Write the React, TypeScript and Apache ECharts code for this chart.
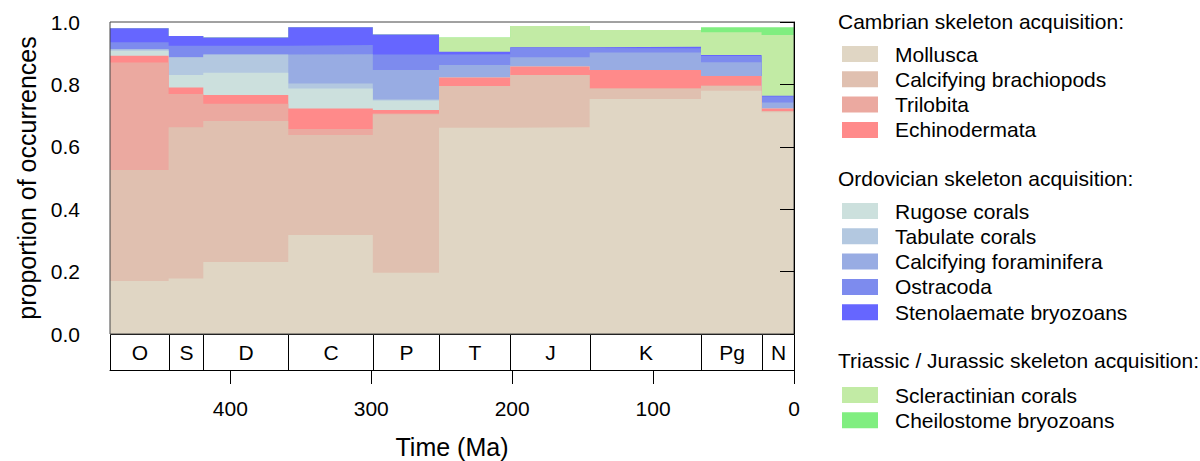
import React, { useEffect, useRef } from "react";
import * as echarts from "echarts";

// Geological periods (Ma)
const periodLabels = ["O", "S", "D", "C", "P", "T", "J", "K", "Pg", "N"];
const periodStarts = [485.4, 443.8, 419.2, 358.9, 298.9, 251.9, 201.4, 145.0, 66.0, 23.03];
const periodEnds = [443.8, 419.2, 358.9, 298.9, 251.9, 201.4, 145.0, 66.0, 23.03, 0];

// Proportion of occurrences per period (O, S, D, C, P, T, J, K, Pg, N)
const mollusca = [0.170, 0.178, 0.231, 0.317, 0.196, 0.661, 0.663, 0.753, 0.780, 0.711];
const brachiopods = [0.356, 0.485, 0.452, 0.321, 0.508, 0.134, 0.167, 0.034, 0.016, 0.004];
const trilobita = [0.344, 0.106, 0.055, 0.019, 0.003, 0, 0, 0, 0, 0];
const echinodermata = [0.022, 0.021, 0.028, 0.066, 0.011, 0.027, 0.027, 0.059, 0.031, 0.008];
const rugose = [0.016, 0.040, 0.071, 0.064, 0.030, 0, 0, 0, 0, 0];
const tabulate = [0.005, 0.057, 0.059, 0.016, 0.004, 0, 0, 0, 0, 0];
const foraminifera = [0, 0, 0, 0.094, 0.094, 0.040, 0.030, 0.056, 0.044, 0.019];
const ostracoda = [0.022, 0.037, 0.028, 0.029, 0.050, 0.035, 0.030, 0.014, 0.020, 0.019];
const stenolaemate = [0.045, 0.031, 0.026, 0.057, 0.064, 0.008, 0.002, 0.005, 0.003, 0.003];
const scleractinian = [0, 0, 0, 0, 0, 0.045, 0.068, 0.053, 0.073, 0.194];
const cheilostome = [0, 0, 0, 0, 0, 0, 0, 0, 0.016, 0.025];

const xTickValues = [0, 100, 200, 300, 400];

const groupCambrian = ["Mollusca", "Calcifying brachiopods", "Trilobita", "Echinodermata"];
const groupOrdovician = ["Rugose corals", "Tabulate corals", "Calcifying foraminifera", "Ostracoda", "Stenolaemate bryozoans"];
const groupTriJur = ["Scleractinian corals", "Cheilostome bryozoans"];

const taxa: [string, number[], string][] = [
  ["Mollusca", mollusca, "#E0D6C4"],
  ["Calcifying brachiopods", brachiopods, "#E0C0B0"],
  ["Trilobita", trilobita, "#EBA9A0"],
  ["Echinodermata", echinodermata, "#FF8A8A"],
  ["Rugose corals", rugose, "#CCE0DD"],
  ["Tabulate corals", tabulate, "#B3C8E0"],
  ["Calcifying foraminifera", foraminifera, "#98ACE3"],
  ["Ostracoda", ostracoda, "#7D8BEE"],
  ["Stenolaemate bryozoans", stenolaemate, "#6666FF"],
  ["Scleractinian corals", scleractinian, "#C2EBA5"],
  ["Cheilostome bryozoans", cheilostome, "#80EE80"],
];

const FONT = '"Liberation Sans", Arial, sans-serif';

export default function App() {
  const ref = useRef<HTMLDivElement>(null);

  useEffect(() => {
    if (!ref.current) return;
    const chart = echarts.init(ref.current, undefined, { renderer: "svg" });

    // cumulative (stacked) tops, computed from the per-taxon arrays
    const running = periodStarts.map(() => 0);
    const cumulative = taxa.map(([name, vals, color]) => {
      const tops = vals.map((v, i) => (running[i] = running[i] + v));
      return { name, color, tops };
    });

    // painter's order: highest cumulative drawn first, lower layers over it
    const areaSeries = cumulative.map(({ name, color, tops }, k) => ({
      name,
      type: "line",
      step: "end",
      xAxisIndex: 0,
      yAxisIndex: 0,
      symbol: "none",
      showSymbol: false,
      color,
      z: 2 + (taxa.length - k) * 0.01,
      zlevel: 0,
      lineStyle: { width: 0 },
      areaStyle: { color, opacity: 1, origin: "start" },
      silent: true,
      emphasis: { disabled: true },
      data: [
        ...periodStarts.map((s, i) => [s, tops[i]]),
        [periodEnds[periodEnds.length - 1], tops[tops.length - 1]],
      ],
    }));
    const orderedSeries = areaSeries.slice().reverse();

    const legendCommon = {
      orient: "vertical",
      icon: "rect",
      itemWidth: 36,
      itemHeight: 16,
      itemGap: 4.3,
      padding: 0,
      selectedMode: false,
      left: 842,
      textStyle: {
        fontSize: 21,
        lineHeight: 21,
        color: "#000",
        fontFamily: FONT,
        padding: [0, 0, 0, 12],
      },
    };

    const option: any = {
      animation: false,
      textStyle: { fontFamily: FONT },
      grid: [
        { left: 110, top: 22, width: 684, height: 312, show: true, borderColor: "#444", borderWidth: 1, backgroundColor: "transparent", z: 10 },
        { left: 110, top: 334, width: 684, height: 36 },
      ],
      xAxis: [
        { type: "value", gridIndex: 0, min: 0, max: 485.4, inverse: true, show: false },
        {
          type: "value",
          gridIndex: 1,
          min: 0,
          max: 485.4,
          inverse: true,
          interval: 100,
          position: "bottom",
          z: 10,
          axisLine: { show: true, lineStyle: { color: "#000", width: 1 } },
          axisTick: { show: true, length: 14, lineStyle: { color: "#000" }, customValues: xTickValues },
          axisLabel: { fontSize: 21, color: "#000", margin: 28, fontFamily: FONT, customValues: xTickValues },
          splitLine: { show: false },
          name: "Time (Ma)",
          nameLocation: "middle",
          nameGap: 64,
          nameTextStyle: { fontSize: 25, color: "#000", fontFamily: FONT },
        },
      ],
      yAxis: [
        {
          type: "value",
          gridIndex: 0,
          min: 0,
          max: 1,
          interval: 0.2,
          z: 10,
          axisLine: { show: true, lineStyle: { color: "#000", width: 1 } },
          axisTick: { show: true, length: 14, lineStyle: { color: "#000" } },
          axisLabel: { fontSize: 21, color: "#000", margin: 30, fontFamily: FONT, formatter: (v: number) => v.toFixed(1) },
          splitLine: { show: false },
          name: "proportion of occurrences",
          nameLocation: "middle",
          nameGap: 70,
          nameTextStyle: { fontSize: 25, color: "#000", fontFamily: FONT },
        },
        { type: "value", gridIndex: 1, min: 0, max: 1, show: false },
      ],
      legend: [
        { ...legendCommon, top: 43.5, data: groupCambrian },
        { ...legendCommon, top: 200.5, data: groupOrdovician },
        { ...legendCommon, top: 384.5, data: groupTriJur },
      ],
      graphic: [
        { type: "text", left: 838, top: 11, style: { text: "Cambrian skeleton acquisition:", fontSize: 21, fontFamily: FONT, fill: "#000" } },
        { type: "text", left: 838, top: 168, style: { text: "Ordovician skeleton acquisition:", fontSize: 21, fontFamily: FONT, fill: "#000" } },
        { type: "text", left: 838, top: 350, style: { text: "Triassic / Jurassic skeleton acquisition:", fontSize: 21, fontFamily: FONT, fill: "#000" } },
      ],
      series: [
        ...orderedSeries,
        {
          type: "custom",
          name: "periods",
          xAxisIndex: 1,
          yAxisIndex: 1,
          silent: true,
          z: 5,
          data: periodStarts.map((s, i) => [s, periodEnds[i], i]),
          renderItem: (params: any, api: any) => {
            const s = api.value(0);
            const e = api.value(1);
            const idx = api.value(2);
            const p0 = api.coord([s, 1]);
            const p1 = api.coord([e, 0]);
            const x0 = Math.round(p0[0]) + 0.5;
            const x1 = Math.round(p1[0]) + 0.5;
            const y0 = Math.round(p0[1]) + 0.5;
            const y1 = Math.round(p1[1]) + 0.5;
            return {
              type: "group",
              children: [
                {
                  type: "rect",
                  shape: { x: x0, y: y0, width: x1 - x0, height: y1 - y0 },
                  style: { fill: "#fff", stroke: "#000", lineWidth: 1 },
                },
                {
                  type: "text",
                  style: {
                    text: periodLabels[idx],
                    x: (x0 + x1) / 2,
                    y: (y0 + y1) / 2,
                    align: "center",
                    verticalAlign: "middle",
                    fontSize: 21,
                    fontFamily: FONT,
                    fill: "#000",
                  },
                },
              ],
            };
          },
        },
      ],
    };

    chart.setOption(option);
    return () => chart.dispose();
  }, []);

  return (
    <div
      ref={ref}
      style={{ position: "fixed", left: 0, top: 0, width: "1200px", height: "461px", background: "#fff" }}
    />
  );
}
